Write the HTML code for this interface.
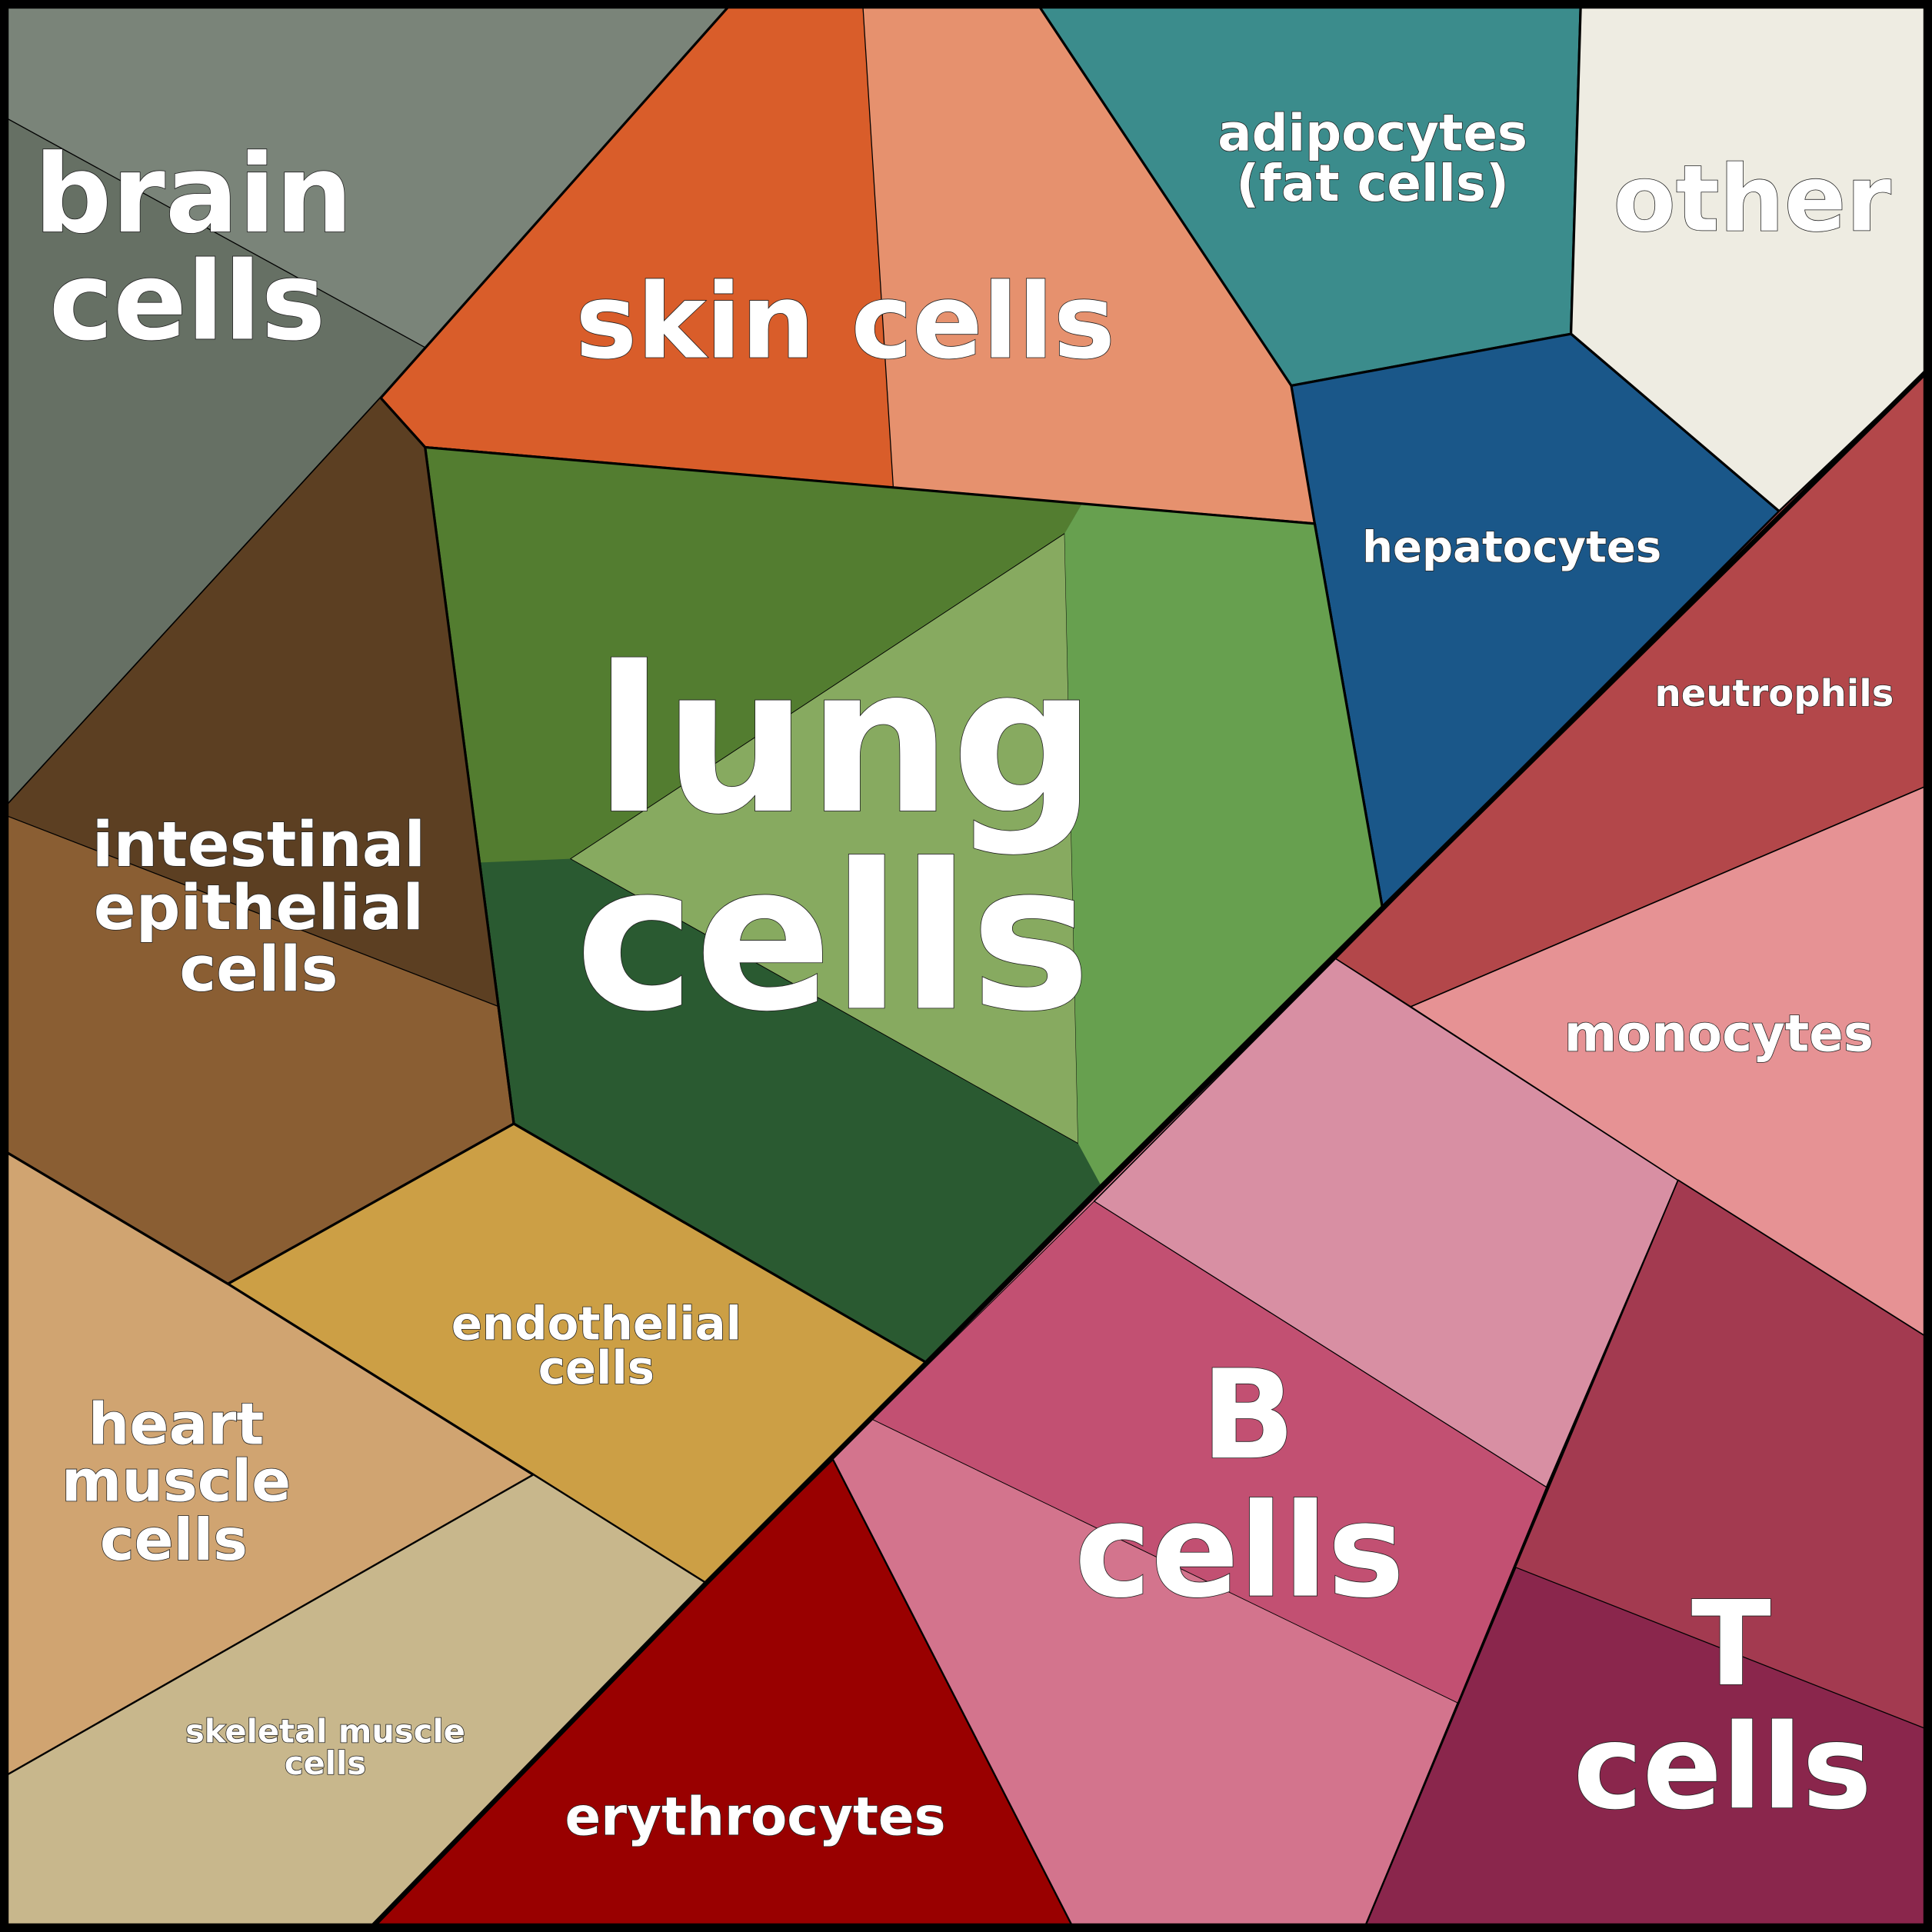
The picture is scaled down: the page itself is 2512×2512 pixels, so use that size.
<!DOCTYPE html>
<html><head><meta charset="utf-8"><style>
html,body{margin:0;padding:0;background:#000}
svg{display:block}
text{font-family:"DejaVu Sans","Liberation Sans",sans-serif;font-weight:bold;fill:#fff;stroke:#222;stroke-width:1;text-anchor:middle;paint-order:stroke}
</style></head><body>
<svg width="2512" height="2512" viewBox="0 0 1568 1568" xmlns="http://www.w3.org/2000/svg">
<g stroke="#000" stroke-width="2" stroke-linejoin="round">
<polygon points="0,0 596,0 309,323 0,660" fill="#667064"/>
<polygon points="0,0 596,0 345,282 0,93" fill="#7a8479" stroke="none"/>
<polygon points="596,0 840,0 1048,313 1067,425 725,396 345,363 309,323" fill="#d95d2a"/>
<polygon points="700,0 840,0 1048,313 1067,425 725,396" fill="#e6916e" stroke="none"/>
<polygon points="840,0 1283,0 1275,271 1048,313" fill="#3b8c8c"/>
<polygon points="1283,0 1568,0 1568,297 1444,415 1275,271" fill="#eeece2"/>
<polygon points="1048,313 1275,271 1444,415 1122,737 1067,425" fill="#1a5789"/>
<polygon points="345,363 878,409 1067,425 1122,737 894,963 752,1106 417,912" fill="#2a5a31"/>
<polygon points="345,363 878,409 864,433 463,697 390,700" fill="#537d30" stroke="none"/>
<polygon points="864,433 463,697 875,928" fill="#87aa60" stroke="#000" stroke-width="0.6"/>
<polygon points="878,409 1067,425 1122,737 894,963 875,928 864,433" fill="#67a04f" stroke="none"/>
<polyline points="345,363 1067,425 1122,737" fill="none"/>
<polygon points="309,323 345,363 417,912 185,1042 0,932 0,660" fill="#8a5e33"/>
<polygon points="309,323 345,363 405,817 0,660" fill="#5c3f22" stroke="none"/>
<polyline points="309,323 345,363 417,912" fill="none"/>
<polygon points="417,912 752,1106 573,1285 433,1197 185,1042" fill="#cc9f45"/>
<polygon points="0,932 185,1042 433,1197 0,1444" fill="#d0a471"/>
<polygon points="0,1444 433,1197 573,1285 298,1568 0,1568" fill="#c8b78c" stroke-width="1"/>
<polygon points="573,1285 676,1184 873,1568 298,1568" fill="#990000"/>
<polygon points="1084,778 1362,958 1255,1207 1183,1382 1106,1568 873,1568 676,1184 888,972" fill="#d3748d" stroke-width="1"/>
<polygon points="1084,778 1362,958 1255,1207 888,975" fill="#d88fa3" stroke-width="1"/>
<polygon points="888,975 1255,1207 1183,1382 708,1152" fill="#c25072" stroke-width="0.6"/>
<polygon points="1444,415 1568,297 1568,636 1145,817 1084,778" fill="#b3474a" stroke-width="1"/>
<polygon points="1145,817 1568,636 1568,1088 1362,958" fill="#e69294" stroke-width="1"/>
<polygon points="1362,958 1568,1088 1568,1568 1106,1568 1230,1272" fill="#8a264c" stroke-width="1.5"/>
<polygon points="1362,958 1568,1088 1568,1405 1230,1272" fill="#a33a50" stroke-width="0.8"/>
</g>
<g stroke="#000" fill="none" stroke-width="0.8">
<line x1="0" y1="93" x2="345" y2="282"/>
<line x1="700" y1="0" x2="725" y2="396"/>
<line x1="0" y1="660" x2="405" y2="817"/>
</g>
<polyline points="1568,297 1122,737 894,963 752,1106 573,1285 298,1568" fill="none" stroke="#000" stroke-width="4"/>
<rect x="3.5" y="3.5" width="1561" height="1561" fill="none" stroke="#000" stroke-width="7"/>
<text x="157" y="188" font-size="88">brain</text>
<text x="152" y="275" font-size="88">cells</text>
<text x="686" y="290" font-size="84">skin cells</text>
<text x="1114" y="122" font-size="41">adipocytes</text>
<text x="1114" y="163" font-size="41">(fat cells)</text>
<text x="1422" y="187" font-size="74">other</text>
<text x="1227" y="456" font-size="35">hepatocytes</text>
<text x="686" y="658" font-size="164">lung</text>
<text x="676" y="818" font-size="164">cells</text>
<text x="1440" y="573" font-size="30">neutrophils</text>
<text x="1395" y="853" font-size="41">monocytes</text>
<text x="210" y="703" font-size="50.5">intestinal</text>
<text x="210" y="754" font-size="50.5">epithelial</text>
<text x="210" y="804" font-size="50.5">cells</text>
<text x="484" y="1087" font-size="37">endothelial</text>
<text x="484" y="1123" font-size="37">cells</text>
<text x="143" y="1172" font-size="47">heart</text>
<text x="143" y="1218" font-size="47">muscle</text>
<text x="141" y="1266" font-size="47">cells</text>
<text x="264" y="1414" font-size="26">skeletal muscle</text>
<text x="264" y="1440" font-size="26">cells</text>
<text x="613" y="1489" font-size="43">erythrocytes</text>
<text x="1013" y="1183" font-size="100">B</text>
<text x="1006" y="1295" font-size="105">cells</text>
<text x="1405" y="1367" font-size="95">T</text>
<text x="1398" y="1467" font-size="95">cells</text>
</svg>
</body></html>
